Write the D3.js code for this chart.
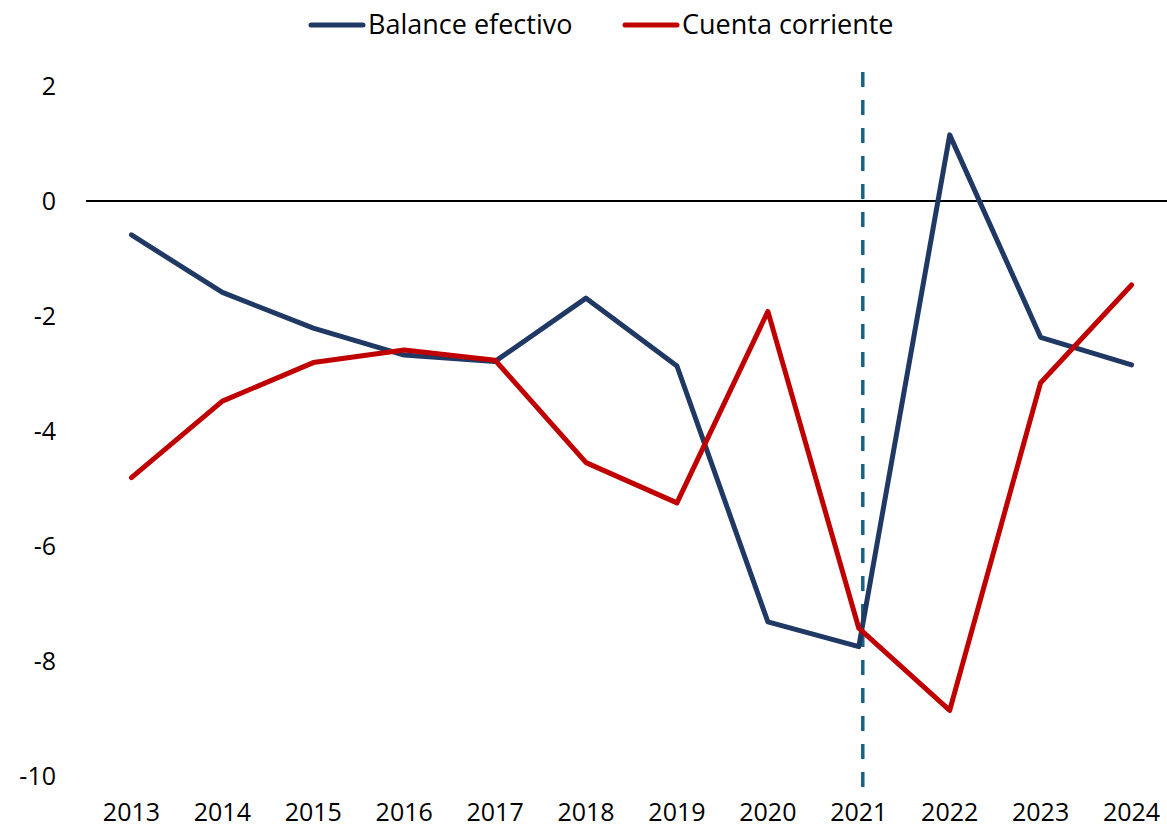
<!DOCTYPE html>
<html>
<head>
<meta charset="utf-8">
<script src="https://cdn.jsdelivr.net/npm/d3@7"></script>
<style>
  body { margin: 0; background: #fff; }
  text { font-family: "Open Sans", "Liberation Sans", sans-serif; fill: #000; }
</style>
</head>
<body>
<div id="chart"></div>
<script>
// data
var years = ["2013","2014","2015","2016","2017","2018","2019","2020","2021","2022","2023","2024"];
var balanceEfectivo = [-0.59, -1.59, -2.21, -2.68, -2.79, -1.69, -2.87, -7.32, -7.75, 1.15, -2.37, -2.85];
var cuentaCorriente = [-4.81, -3.48, -2.81, -2.59, -2.77, -4.55, -5.25, -1.92, -7.43, -8.86, -3.16, -1.46];
var yTicks = [2, 0, -2, -4, -6, -8, -10];
var markerYear = "2021";

var width = 1167, height = 832;
var margin = {top: 86, right: -10, bottom: 56, left: 86};

var svg = d3.select("#chart").append("svg")
  .attr("width", width)
  .attr("height", height);

var x = d3.scalePoint()
  .domain(years)
  .range([margin.left, width - margin.right])
  .padding(0.5);

var y = d3.scaleLinear()
  .domain([-10, 2])
  .range([height - margin.bottom, margin.top]);

// y labels
svg.append("g")
  .selectAll("text")
  .data(yTicks)
  .enter().append("text")
  .attr("x", 56)
  .attr("y", function(d) { return y(d); })
  .attr("dy", "0.35em")
  .attr("text-anchor", "end")
  .style("font-size", "25px")
  .text(function(d) { return d; });

// x labels
svg.append("g")
  .selectAll("text")
  .data(years)
  .enter().append("text")
  .attr("x", function(d) { return x(d); })
  .attr("y", 812)
  .attr("dy", "0.35em")
  .attr("text-anchor", "middle")
  .style("font-size", "25px")
  .text(function(d) { return d; });

// zero line
svg.append("line")
  .attr("x1", margin.left)
  .attr("x2", width)
  .attr("y1", y(0))
  .attr("y2", y(0))
  .attr("stroke", "#000")
  .attr("stroke-width", 2);

// dashed marker (sits a few px right of the 2021 point)
svg.append("line")
  .attr("x1", x(markerYear) + 4)
  .attr("x2", x(markerYear) + 4)
  .attr("y1", 72)
  .attr("y2", 789)
  .attr("stroke", "#1A6285")
  .attr("stroke-width", 3.5)
  .attr("stroke-dasharray", "15,13");

var line = d3.line()
  .x(function(d, i) { return x(years[i]); })
  .y(function(d) { return y(d); });

var series = [
  {name: "Balance efectivo", values: balanceEfectivo, color: "#203864"},
  {name: "Cuenta corriente", values: cuentaCorriente, color: "#C00000"}
];

svg.append("path")
  .datum(balanceEfectivo)
  .attr("d", line)
  .attr("fill", "none")
  .attr("stroke", series[0].color)
  .attr("stroke-width", 5)
  .attr("stroke-linejoin", "round")
  .attr("stroke-linecap", "round");

svg.append("path")
  .datum(cuentaCorriente)
  .attr("d", line)
  .attr("fill", "none")
  .attr("stroke", series[1].color)
  .attr("stroke-width", 5)
  .attr("stroke-linejoin", "round")
  .attr("stroke-linecap", "round");

// legend
var legendX = [311, 625];
var legend = svg.append("g")
  .selectAll("g")
  .data(series)
  .enter().append("g")
  .attr("transform", function(d, i) { return "translate(" + legendX[i] + ",25)"; });

legend.append("line")
  .attr("x1", 0)
  .attr("x2", 52)
  .attr("stroke", function(d) { return d.color; })
  .attr("stroke-width", 5)
  .attr("stroke-linecap", "round");

legend.append("text")
  .attr("x", 57)
  .attr("dy", "0.35em")
  .style("font-size", "27px")
  .text(function(d) { return d.name; });
</script>
</body>
</html>
